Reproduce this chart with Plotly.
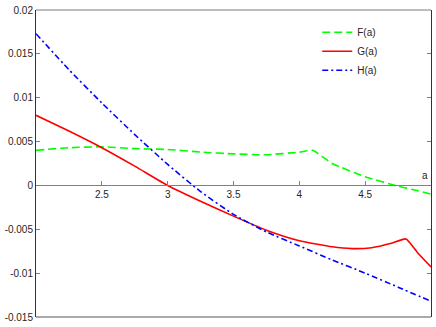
import plotly.graph_objects as go

# valores
a_F = [2.0, 2.25, 2.5, 2.75, 3.0, 3.25, 3.5, 3.75, 4.0, 4.1, 4.25, 4.5, 4.75, 4.9, 5.0]
F = [0.0040, 0.0043, 0.0044, 0.0042, 0.0041, 0.0038, 0.0036, 0.0035, 0.0038, 0.0040,
     0.0025, 0.0010, -0.0001, -0.0006, -0.0010]

a_G = [2.0, 2.25, 2.5, 2.75, 3.0, 3.25, 3.5, 3.75, 4.0, 4.25, 4.4, 4.55, 4.7, 4.81, 4.9, 5.0]
G = [0.0080, 0.0062, 0.0043, 0.0022, 0.0000, -0.0018, -0.0035, -0.0051, -0.0063, -0.0070,
     -0.0072, -0.0071, -0.0066, -0.0061, -0.0077, -0.0093]

a_H = [2.0, 2.25, 2.5, 2.75, 3.0, 3.25, 3.5, 3.75, 4.0, 4.25, 4.5, 4.75, 5.0]
H = [0.0173, 0.0132, 0.0094, 0.0058, 0.0024, -0.0007, -0.0033, -0.0053, -0.0069, -0.0085,
     -0.0100, -0.0116, -0.0132]

x_ticks = [2.5, 3, 3.5, 4, 4.5]
x_labels = ["2.5", "3", "3.5", "4", "4.5"]
y_ticks = [0.02, 0.015, 0.01, 0.005, 0, -0.005, -0.01, -0.015]
y_labels = ["0.02", "0.015", "0.01", "0.005", "0", "-0.005", "-0.01", "-0.015"]

y_min, y_max = -0.015, 0.02

fig = go.Figure()
fig.add_trace(go.Scatter(x=a_F, y=F, name="F(a)", mode="lines",
                         line=dict(color="#00ff00", width=1.6, dash="8px,4px",
                                   shape="spline", smoothing=0.5)))
fig.add_trace(go.Scatter(x=a_G, y=G, name="G(a)", mode="lines",
                         line=dict(color="#ff0000", width=1.6,
                                   shape="spline", smoothing=0.5)))
fig.add_trace(go.Scatter(x=a_H, y=H, name="H(a)", mode="lines",
                         line=dict(color="#0000ff", width=1.6, dash="6px,3px,2px,3px",
                                   shape="spline", smoothing=0.5)))

font = dict(family="Liberation Sans, Arial, sans-serif", size=10, color="#262626")

fig.update_layout(
    width=436, height=327, autosize=False,
    margin=dict(l=36, r=4, t=5, b=9),
    plot_bgcolor="white", paper_bgcolor="white",
    font=font,
    showlegend=True,
    legend=dict(x=0.712, y=0.975, xanchor="left", yanchor="top",
                bgcolor="rgba(0,0,0,0)", font=font, tracegroupgap=0),
    xaxis=dict(range=[2, 5], anchor="free", position=-y_min / (y_max - y_min),
               showline=True, linecolor="#808080", linewidth=1,
               ticks="inside", ticklen=4, tickcolor="#808080",
               tickvals=x_ticks, ticktext=x_labels,
               showgrid=False, zeroline=False),
    yaxis=dict(range=[y_min, y_max], showline=True, linecolor="#333333", linewidth=1,
               mirror="ticks", ticks="inside", ticklen=4, tickcolor="#808080",
               tickvals=y_ticks, ticktext=y_labels, ticklabeloverflow="allow",
               showgrid=False, zeroline=False),
)

# bordas de cima e de baixo
fig.add_shape(type="line", xref="paper", yref="paper", x0=0, x1=1, y0=1, y1=1,
              line=dict(color="#bdbdbd", width=2))
fig.add_shape(type="line", xref="paper", yref="paper", x0=0, x1=1, y0=0, y1=0,
              line=dict(color="#555555", width=1))

fig.add_annotation(text="a", x=4.99, y=0, xref="x", yref="y", xanchor="right",
                   yanchor="bottom", yshift=2, showarrow=False, font=font)

# tira a margem do body para a figura ficar colada no canto
fig.write_html("out.html", config={"displayModeBar": False},
               post_script="document.body.style.margin='0';")
